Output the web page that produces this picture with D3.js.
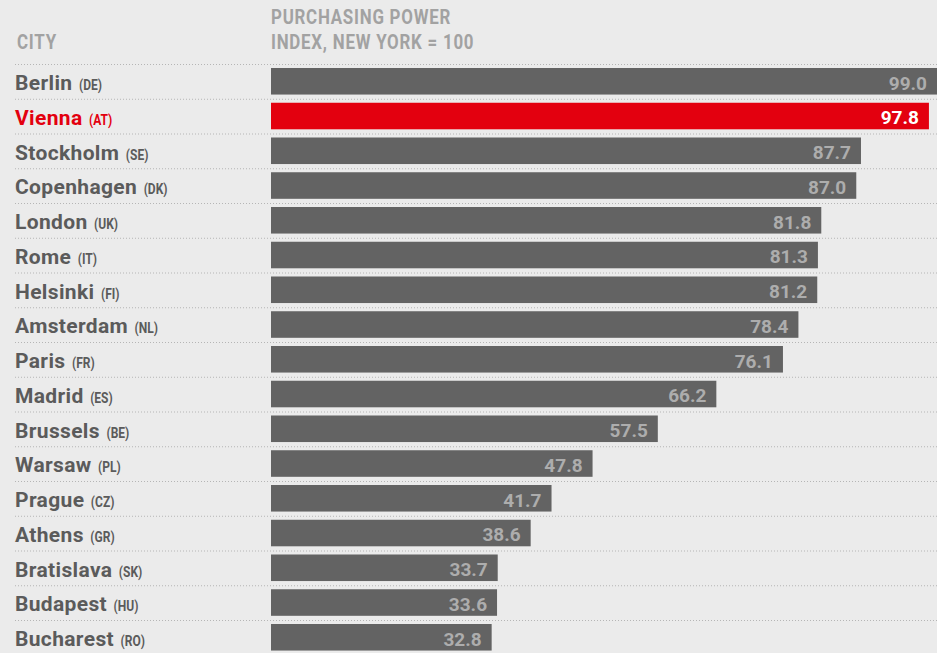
<!DOCTYPE html>
<html>
<head>
<meta charset="utf-8">
<script src="https://cdn.jsdelivr.net/npm/d3@7/dist/d3.min.js"></script>
<style>
  html, body { margin: 0; padding: 0; background: #ebebeb; }
  svg { display: block; }
</style>
</head>
<body>
<svg id="chart" width="937" height="653"></svg>
<script>
// Purchasing power by European capital (New York = 100)
const cities = ["Berlin", "Vienna", "Stockholm", "Copenhagen", "London", "Rome", "Helsinki",
  "Amsterdam", "Paris", "Madrid", "Brussels", "Warsaw", "Prague", "Athens", "Bratislava",
  "Budapest", "Bucharest"];
const countryCodes = ["DE", "AT", "SE", "DK", "UK", "IT", "FI", "NL", "FR", "ES", "BE", "PL",
  "CZ", "GR", "SK", "HU", "RO"];
const values = [99.0, 97.8, 87.7, 87.0, 81.8, 81.3, 81.2, 78.4, 76.1, 66.2, 57.5, 47.8,
  41.7, 38.6, 33.7, 33.6, 32.8];
const highlight = "Vienna";
const headerCity = ["CITY"];
const headerValue = ["PURCHASING POWER", "INDEX, NEW YORK = 100"];

const W = 937, H = 653;
const FONT = "Roboto, 'Liberation Sans', sans-serif";
const svg = d3.select("#chart");
svg.append("rect").attr("width", W).attr("height", H).attr("fill", "#ebebeb");

const rowTop = 64, rowStep = 34.75;
const y = d3.scaleBand().domain(cities).range([rowTop, rowTop + rowStep * cities.length]).padding(0);
const x = d3.scaleLinear().domain([0, 99]).range([271, 937]);

const grey = "#5b5b5b", red = "#e3000f", headGrey = "#a2a2a2";

// column headers, set in a condensed cut
function header(text, x0, yb) {
  svg.append("text")
    .attr("transform", `translate(${x0},${yb}) scale(0.845,1)`)
    .attr("font-family", FONT).attr("font-weight", 700).attr("font-size", 20)
    .attr("letter-spacing", 0.9)
    .attr("fill", headGrey)
    .text(text);
}
header(headerCity[0], 17, 49);
headerValue.forEach((t, i) => header(t, 271, 24 + i * 25));

// dotted row separators
svg.append("g").selectAll("line").data(cities).join("line")
  .attr("x1", 15).attr("x2", W)
  .attr("y1", d => y(d) + 0.5).attr("y2", d => y(d) + 0.5)
  .attr("stroke", "#b5b5b5").attr("stroke-width", 1)
  .attr("stroke-dasharray", "1,2");

const rows = svg.append("g").selectAll("g").data(cities).join("g")
  .attr("transform", d => `translate(0,${y(d)})`);

// bars
rows.append("rect")
  .attr("x", x(0))
  .attr("y", 4)
  .attr("height", y.bandwidth() - 8.2)
  .attr("width", (d, i) => x(values[i]) - x(0))
  .attr("fill", d => d === highlight ? red : "#636363");

// city names with condensed country codes
rows.each(function (d, i) {
  const g = d3.select(this);
  const col = d === highlight ? red : grey;
  const name = g.append("text")
    .attr("x", 15).attr("y", 26)
    .attr("font-family", FONT).attr("font-weight", 700).attr("font-size", 21)
    .attr("letter-spacing", 0.35)
    .attr("fill", col)
    .text(d);
  const w = name.node().getComputedTextLength();
  g.append("text")
    .attr("transform", `translate(${15 + w + 6.5},26) scale(0.86,1)`)
    .attr("font-family", FONT).attr("font-weight", 700).attr("font-size", 14)
    .attr("fill", col)
    .text(`(${countryCodes[i]})`);
});

// value labels inside bars
rows.append("text")
  .attr("x", (d, i) => x(values[i]) - 10)
  .attr("y", 25.5)
  .attr("text-anchor", "end")
  .attr("font-family", FONT)
  .attr("font-weight", 700)
  .attr("font-size", 19)
  .attr("fill", d => d === highlight ? "#ffffff" : "#adadad")
  .text((d, i) => values[i].toFixed(1));
</script>
</body>
</html>
